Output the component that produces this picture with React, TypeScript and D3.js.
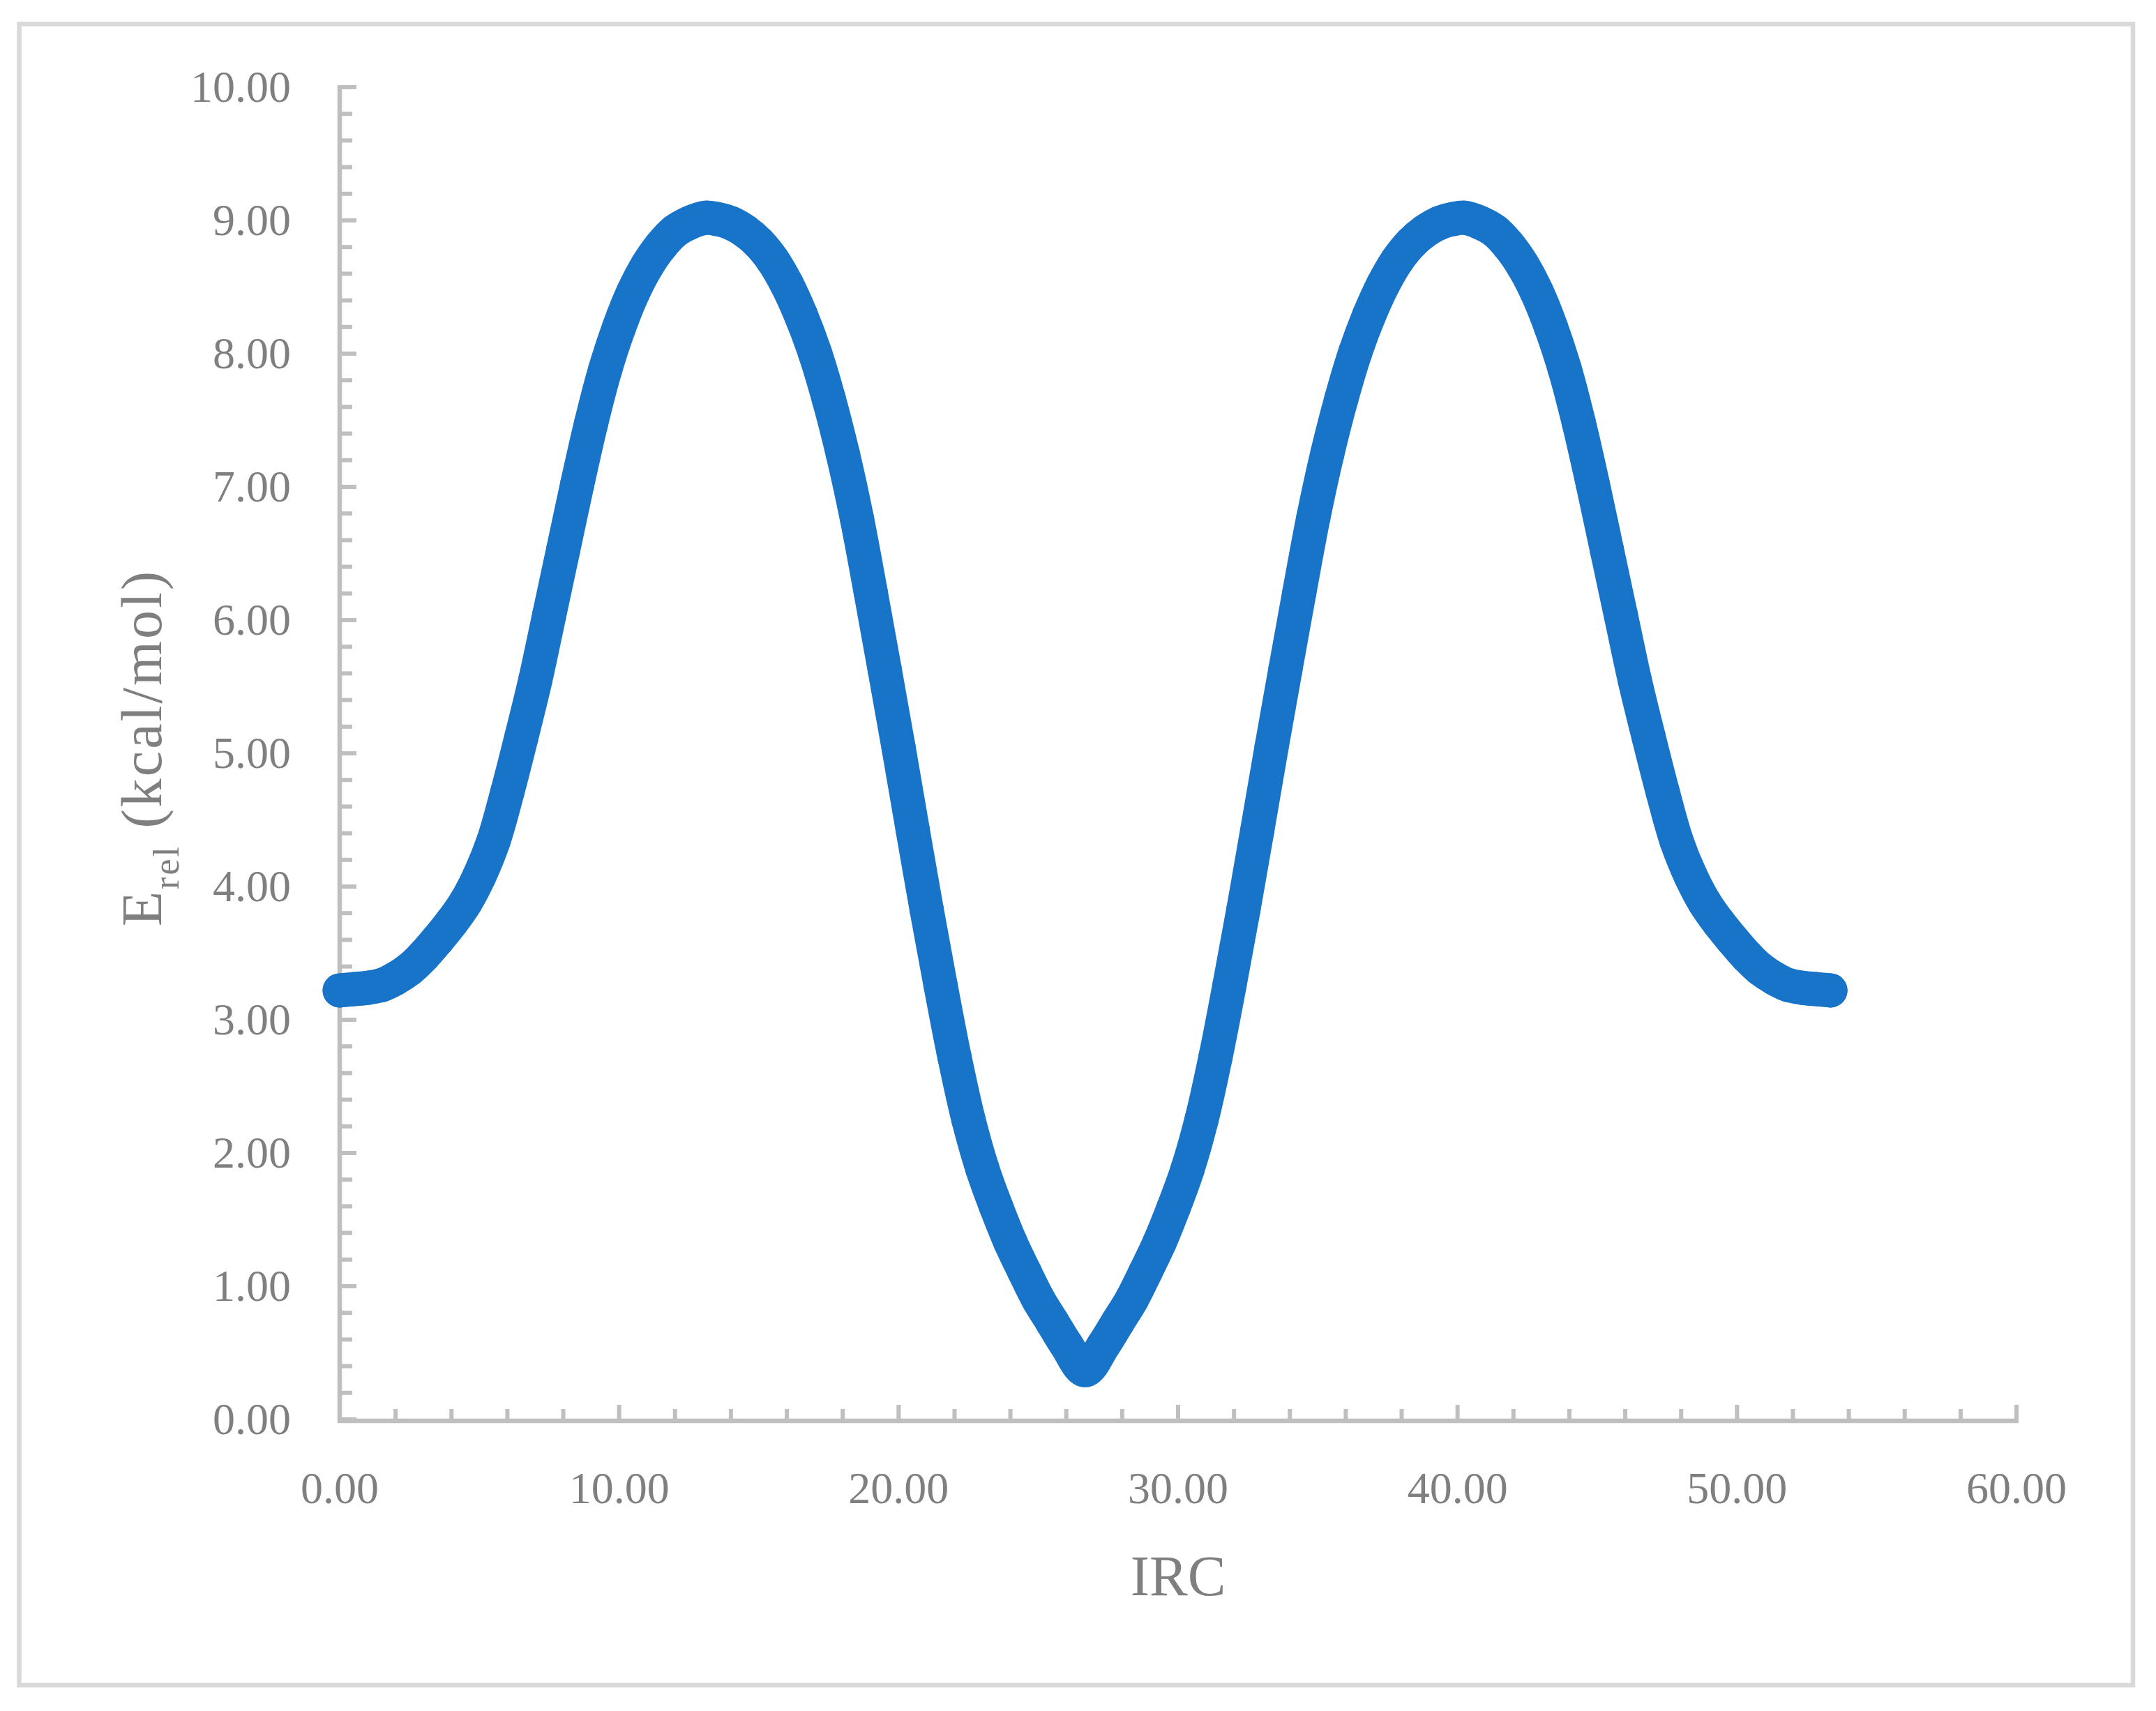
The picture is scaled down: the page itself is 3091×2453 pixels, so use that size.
import React from "react";
import * as d3 from "d3";

// IRC coordinate (x) and relative energy in kcal/mol (y)
const ircLeft = [0, 0.5, 1, 1.5, 2, 2.5, 3, 3.5, 4, 4.5, 5, 5.5, 6, 6.5, 7, 7.5, 8, 8.5, 9, 9.5, 10, 10.5, 11, 11.5, 12, 12.5, 13.1, 13.5, 14, 14.5, 15, 15.5, 16, 16.5, 17, 17.5, 18, 18.5, 19, 19.5, 20, 20.5, 21, 21.5, 22, 22.5, 23, 23.5, 24, 24.5, 25, 25.5, 26, 26.67];
const energyLeft = [3.22, 3.23, 3.24, 3.26, 3.31, 3.38, 3.48, 3.6, 3.73, 3.88, 4.08, 4.34, 4.71, 5.12, 5.55, 6.04, 6.53, 7.02, 7.48, 7.88, 8.2, 8.46, 8.66, 8.81, 8.92, 8.98, 9.02, 9.01, 8.98, 8.92, 8.83, 8.7, 8.52, 8.29, 8.01, 7.66, 7.25, 6.77, 6.21, 5.63, 5.04, 4.43, 3.83, 3.26, 2.72, 2.25, 1.88, 1.59, 1.33, 1.11, 0.9, 0.73, 0.56, 0.37];
const ircRight = [27.34, 27.84, 28.34, 28.84, 29.34, 29.84, 30.34, 30.84, 31.34, 31.84, 32.34, 32.84, 33.34, 33.84, 34.34, 34.84, 35.34, 35.84, 36.34, 36.84, 37.34, 37.84, 38.34, 38.84, 39.34, 39.84, 40.24, 40.84, 41.34, 41.84, 42.34, 42.84, 43.34, 43.84, 44.34, 44.84, 45.34, 45.84, 46.34, 46.84, 47.34, 47.84, 48.34, 48.84, 49.34, 49.84, 50.34, 50.84, 51.34, 51.84, 52.34, 52.84, 53.34];
const energyRight = [0.56, 0.73, 0.9, 1.11, 1.33, 1.59, 1.88, 2.25, 2.72, 3.26, 3.83, 4.43, 5.04, 5.63, 6.21, 6.77, 7.25, 7.66, 8.01, 8.29, 8.52, 8.7, 8.83, 8.92, 8.98, 9.01, 9.02, 8.98, 8.92, 8.81, 8.66, 8.46, 8.2, 7.88, 7.48, 7.02, 6.53, 6.04, 5.55, 5.12, 4.71, 4.34, 4.08, 3.88, 3.73, 3.6, 3.48, 3.38, 3.31, 3.26, 3.24, 3.23, 3.22];

const xMajorTicks = [0, 10, 20, 30, 40, 50, 60];
const yMajorTicks = [0, 1, 2, 3, 4, 5, 6, 7, 8, 9, 10];
const xTitle = "IRC";
const yTitleMain = "E";
const yTitleSub = "rel";
const yTitleRest = " (kcal/mol)";

const W = 3091;
const H = 2453;
const FONT = "'Palatino Linotype', 'Book Antiqua', Palatino, 'Liberation Serif', serif";
const AXIS = "#BFBFBF";
const TEXT = "#7F7F7F";
const BLUE = "#1874C8";

export default function App() {
  const x = d3.scaleLinear().domain([0, 60]).range([487, 2891]);
  const y = d3.scaleLinear().domain([0, 10]).range([2035, 125]);

  const pts: [number, number][] = [
    ...ircLeft.map((v, i) => [v, energyLeft[i]] as [number, number]),
    ...ircRight.map((v, i) => [v, energyRight[i]] as [number, number]),
  ];
  const line = d3
    .line<[number, number]>()
    .x((d) => x(d[0]))
    .y((d) => y(d[1]))
    .curve(d3.curveCatmullRom.alpha(0.5));

  const xMinor = d3.range(0, 60.001, 2).filter((v) => Math.abs(v % 10) > 1e-6);
  const yMinor = d3.range(0, 10.001, 0.2).filter((v) => Math.abs(v - Math.round(v)) > 1e-6);

  const x0 = x(0);
  const y0 = y(0);

  return (
    <svg
      width={W}
      height={H}
      style={{ position: "absolute", left: 0, top: 0, display: "block", background: "#fff" }}
    >
      <rect x={0} y={0} width={W} height={H} fill="#fff" />
      <rect x={27.5} y={34.5} width={3058 - 27.5} height={2416 - 34.5} fill="none" stroke="#D9D9D9" strokeWidth={6.5} />

      {/* y axis */}
      <line x1={x0} x2={x0} y1={y0 + 5} y2={y(10) - 3} stroke={AXIS} strokeWidth={6.5} />
      {yMajorTicks.map((v) => (
        <line key={"ym" + v} x1={x0} x2={x0 + 24} y1={y(v)} y2={y(v)} stroke={AXIS} strokeWidth={6} />
      ))}
      {yMinor.map((v) => (
        <line key={"yn" + v} x1={x0} x2={x0 + 18} y1={y(v)} y2={y(v)} stroke={AXIS} strokeWidth={6} />
      ))}
      {/* x axis */}
      <line x1={x0 - 3} x2={x(60) + 3} y1={y0 + 2} y2={y0 + 2} stroke={AXIS} strokeWidth={6.5} />
      {xMajorTicks.map((v) => (
        <line key={"xm" + v} x1={x(v)} x2={x(v)} y1={y0 + 2} y2={y0 - 21} stroke={AXIS} strokeWidth={6} />
      ))}
      {xMinor.map((v) => (
        <line key={"xn" + v} x1={x(v)} x2={x(v)} y1={y0 + 2} y2={y0 - 15} stroke={AXIS} strokeWidth={6} />
      ))}

      {/* tick labels */}
      {yMajorTicks.map((v) => (
        <text key={"yl" + v} x={417} y={y(v) + 21} textAnchor="end" fontFamily={FONT} fontSize={64} fill={TEXT}>
          {v.toFixed(2)}
        </text>
      ))}
      {xMajorTicks.map((v) => (
        <text key={"xl" + v} x={x(v)} y={2155} textAnchor="middle" fontFamily={FONT} fontSize={64} fill={TEXT}>
          {v.toFixed(2)}
        </text>
      ))}

      {/* axis titles */}
      <text x={(x(0) + x(60)) / 2} y={2287} textAnchor="middle" fontFamily={FONT} fontSize={82} fill={TEXT}>
        {xTitle}
      </text>
      <text
        transform="translate(231,1072) rotate(-90)"
        textAnchor="middle"
        fontFamily={FONT}
        fontSize={82}
        fill={TEXT}
        letterSpacing={3}
      >
        <tspan>{yTitleMain}</tspan>
        <tspan fontSize={52} dy={25}>{yTitleSub}</tspan>
        <tspan dy={-25}>{yTitleRest}</tspan>
      </text>

      {/* series */}
      <path d={line(pts) || ""} fill="none" stroke={BLUE} strokeWidth={49} strokeLinecap="round" strokeLinejoin="round" />
      {pts.map((d, i) => (
        <circle key={"p" + i} cx={x(d[0])} cy={y(d[1])} r={24.5} fill={BLUE} />
      ))}
    </svg>
  );
}
